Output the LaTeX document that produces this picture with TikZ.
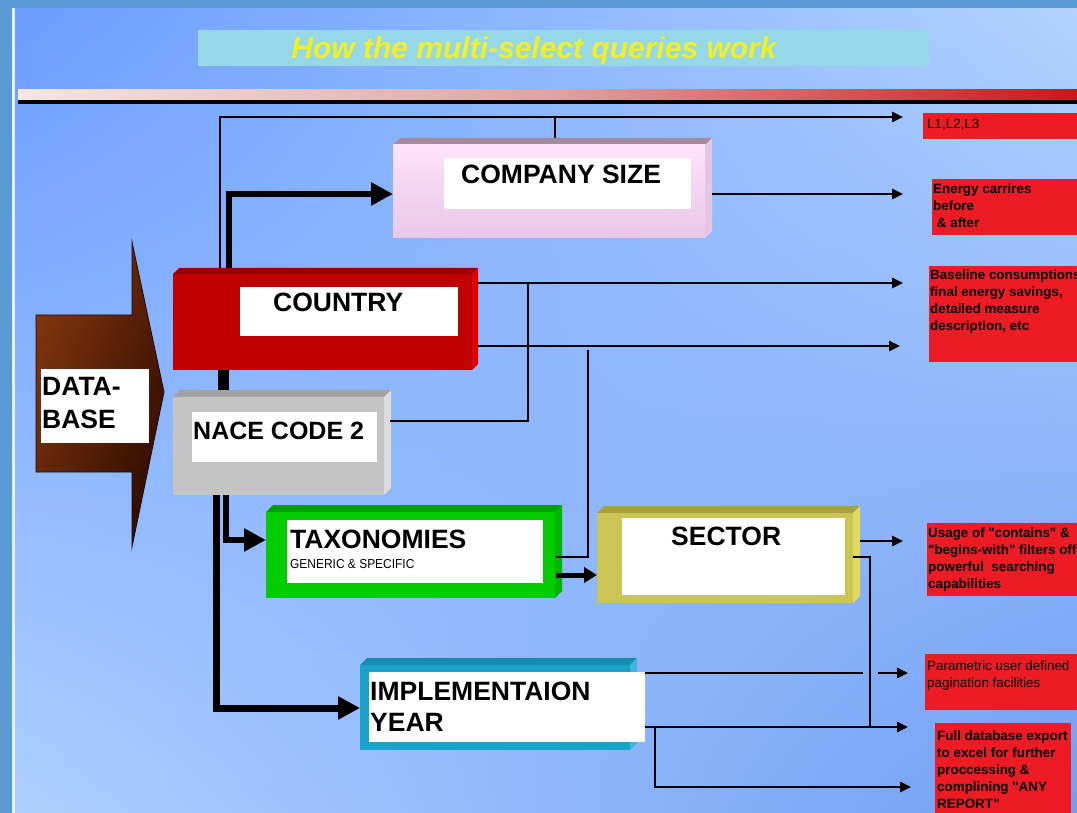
\documentclass[tikz,border=0pt]{standalone}
\usepackage{fontspec}
\setmainfont{Liberation Sans}
\newfontfamily\rawsans{Liberation Sans}
\usetikzlibrary{arrows.meta,fit,shadings}
\definecolor{stripblue}{HTML}{5B9BD5}
\definecolor{bgA}{HTML}{6B9CFF}
\definecolor{bgB}{HTML}{B2D3FF}
\definecolor{bgC}{HTML}{AED0FF}
\definecolor{bgD}{HTML}{719EF4}
\definecolor{titlecyan}{HTML}{96D8E8}
\definecolor{titleyellow}{HTML}{F0F028}
\definecolor{barL}{HTML}{F4E6E2}
\definecolor{barM}{HTML}{E0A4A4}
\definecolor{barR}{HTML}{C81818}
\definecolor{boxred}{HTML}{ED1C24}
\definecolor{csTop}{HTML}{FFE2FA}
\definecolor{csBot}{HTML}{E8C6E8}
\definecolor{csBev}{HTML}{A48A9E}
\definecolor{csSide}{HTML}{E4C4E4}
\definecolor{coFront}{HTML}{C00000}
\definecolor{coBev}{HTML}{980000}
\definecolor{coSide}{HTML}{E00000}
\definecolor{naFront}{HTML}{C4C4C4}
\definecolor{naBev}{HTML}{A2A2A2}
\definecolor{naSide}{HTML}{DCDCDC}
\definecolor{txFront}{HTML}{00CC00}
\definecolor{txBev}{HTML}{009E00}
\definecolor{txSide}{HTML}{00B400}
\definecolor{seFront}{HTML}{CCC455}
\definecolor{seBev}{HTML}{A8A040}
\definecolor{seSide}{HTML}{E2DA60}
\definecolor{imFront}{HTML}{1AA2CA}
\definecolor{imBev}{HTML}{168CB0}
\definecolor{imSide}{HTML}{3CB6DE}
\definecolor{dbA}{HTML}{8C3C0E}
\definecolor{dbB}{HTML}{5A2006}
\definecolor{dbC}{HTML}{5C2208}
\definecolor{dbD}{HTML}{220600}
% name, x1, ytop, xfront-right, ybottom, bevel, front options, top colour, side colour
\newcommand\bevbox[9]{%
  \fill[#8] (#2,{#3+#6}) -- ({#2+#6},#3) -- ({#4+#6},#3) -- (#4,{#3+#6}) -- cycle;
  \fill[#9] (#4,{#3+#6}) -- ({#4+#6},#3) -- ({#4+#6},{#5-#6}) -- (#4,#5) -- cycle;
  \node[fit={(#2,{#3+#6}) (#4,#5)}, inner sep=0pt, #7] (#1) {};
}
\begin{document}
\begin{tikzpicture}[x=1pt,y=-1pt,
  thinline/.style={line width=2.6pt, black},
  thinarr/.style={thinline, -{Triangle[length=11pt,width=10pt]}},
  heavyline/.style={line width=6pt, black},
  heavyarr/.style={heavyline, -{Triangle[length=22pt,width=22pt]}},
  midarr/.style={line width=5pt, black, -{Triangle[length=13pt,width=15pt]}},
  inbox/.style={fill=white, inner sep=0pt},
  biglbl/.style={font=\fontsize{26.5}{33}\selectfont\bfseries, inner sep=0pt, anchor=base west},
  redbox/.style={fill=boxred, inner sep=0pt},
  redtxt/.style={font=\rawsans\fontsize{13.4}{17}\selectfont\bfseries, inner sep=0pt, align=left, anchor=north west, text=black},
  redtxtr/.style={redtxt, font=\rawsans\fontsize{13.4}{17}\selectfont}
]
\useasboundingbox (0,0) rectangle (1077,813);
\clip (0,0) rectangle (1077,813);
% background
\shade[upper left=bgA, upper right=bgB, lower left=bgC, lower right=bgD] (15,8) rectangle (1077,813);
\fill[stripblue] (0,0) rectangle (1077,8);
\fill[stripblue] (0,0) rectangle (12,813);
\fill[white!85!stripblue] (12,8) rectangle (15,813);
% title
\fill[titlecyan] (198,30) rectangle (930,66);
\node[font=\fontsize{30}{36}\selectfont\bfseries\itshape, text=titleyellow, anchor=base, inner sep=0pt] (title) at (534,59) {How the multi-select queries work};
% separator bar
\shade[left color=barL, right color=barR, middle color=barM] (18,90) rectangle (1077,100);
\fill[black] (18,100) rectangle (1077,104);
% database arrow
\shade[upper left=dbA, upper right=dbB, lower left=dbC, lower right=dbD]
  (36,315) -- (132,315) -- (132,242) -- (164,392) -- (132,547) -- (132,472) -- (36,472) -- cycle;
\draw[line width=0.8pt, dbD] (36,315) -- (132,315) -- (132,242) -- (164,392) -- (132,547) -- (132,472) -- (36,472) -- cycle;
\node[inbox, fit={(41,369) (149,443)}] (dbin) {};
\node[biglbl, align=left, anchor=base west] (dblbl) at (42,428) {DATA-\\BASE};
% connectors behind boxes
\coordinate (tTop) at (220,117);
\coordinate (eL1) at (903,117);
\draw[thinarr] (220,268) -- (tTop) -- (eL1);
\draw[thinline] (555,117) -- (555,138);
\draw[heavyarr] (229,268) -- (229,194) -- (393,194);
\draw[line width=11pt] (223.5,368) -- (223.5,392);
\draw[heavyarr, line width=7pt] (216,495) -- (216,708) -- (360,708);
\draw[heavyarr] (226,495) -- (226,540) -- (266,540);
% boxes
\bevbox{company}{393}{138}{705}{238}{7}{top color=csTop, bottom color=csBot}{csBev}{csSide}
\bevbox{country}{173}{268}{472}{370}{6}{fill=coFront}{coBev}{coSide}
\bevbox{nace}{173}{390}{384}{495}{7}{fill=naFront}{naBev}{naSide}
\bevbox{tax}{266}{505}{555}{598}{7}{fill=txFront}{txBev}{txSide}
\bevbox{sector}{597}{506}{853}{603}{7}{fill=seFront}{seBev}{seSide}
\bevbox{impl}{360}{658}{630}{750}{7}{fill=imFront}{imBev}{imSide}
% white inner panels
\node[inbox, fit={(444,158) (691,209)}] (companyin) {};
\node[inbox, fit={(240,287) (458,336)}] (countryin) {};
\node[inbox, fit={(192,412) (377,462)}] (nacein) {};
\node[inbox, fit={(287,520) (543,583)}] (taxin) {};
\node[inbox, fit={(622,518) (845,595)}] (sectorin) {};
\node[inbox, fit={(369,672) (645,742)}] (implin) {};
% labels
\node[biglbl] (companylbl) at (461,184) {COMPANY SIZE};
\node[biglbl] (countrylbl) at (273,312) {COUNTRY};
\node[biglbl, font=\fontsize{25}{30}\selectfont\bfseries] (nacelbl) at (193,439) {NACE CODE 2};
\node[biglbl] (taxlbl) at (290,548) {TAXONOMIES};
\node[font=\fontsize{13}{14}\selectfont, inner sep=0pt, anchor=base west, xscale=0.92] (taxsub) at (290,568) {GENERIC \& SPECIFIC};
\node[biglbl] (sectorlbl) at (671,545) {SECTOR};
\node[biglbl] (impllbl1) at (370,700) {IMPLEMENTAION};
\node[biglbl] (impllbl2) at (370,731) {YEAR};
% connectors from boxes
\draw[thinarr] (712,194) -- (903,194);
\draw[thinarr] (478,283) -- (903,283);
\draw[thinarr] (478,346) -- (900,346);
\draw[thinline] (390,421) -- (528,421) -- (528,283);
\draw[thinline] (556,557) -- (588,557) -- (588,350);
\draw[midarr] (556,575) -- (597,575);
\draw[thinarr] (860,541) -- (903,541);
\draw[thinline] (853,557) -- (870,557) -- (870,727);
\draw[thinline] (645,673) -- (863,673);
\draw[thinarr] (878,673) -- (908,673);
\draw[thinarr] (645,727) -- (908,727);
\draw[thinarr] (655,727) -- (655,787) -- (911,787);
% red result boxes
\node[redbox, fit={(923,113) (1077,139)}] (r1) {};
\node[redtxtr] (t1) at (927,119) {L1,L2,L3};
\node[redbox, fit={(932,179) (1077,235)}] (r2) {};
\node[redtxt] (t2) at (933,184) {Energy carrires\\before\\\ \& after};
\node[redbox, fit={(929,266) (1077,362)}] (r3) {};
\node[redtxt] (t3) at (930,270) {Baseline consumptions\\final energy savings,\\detailed measure\\description, etc};
\node[redbox, fit={(927,523) (1077,596)}] (r4) {};
\node[redtxt] (t4) at (928,528) {Usage of "contains" \&\\"begins-with" filters offer\\powerful\ \ searching\\capabilities};
\node[redbox, fit={(925,654) (1077,710)}] (r5) {};
\node[redtxtr] (t5) at (927,661) {Parametric user defined\\pagination facilities};
\node[redbox, fit={(935,723) (1071,813)}] (r6) {};
\node[redtxt] (t6) at (937,731) {Full database export\\to excel for further\\proccessing \&\\complining "ANY\\REPORT"};
\end{tikzpicture}
\end{document}
